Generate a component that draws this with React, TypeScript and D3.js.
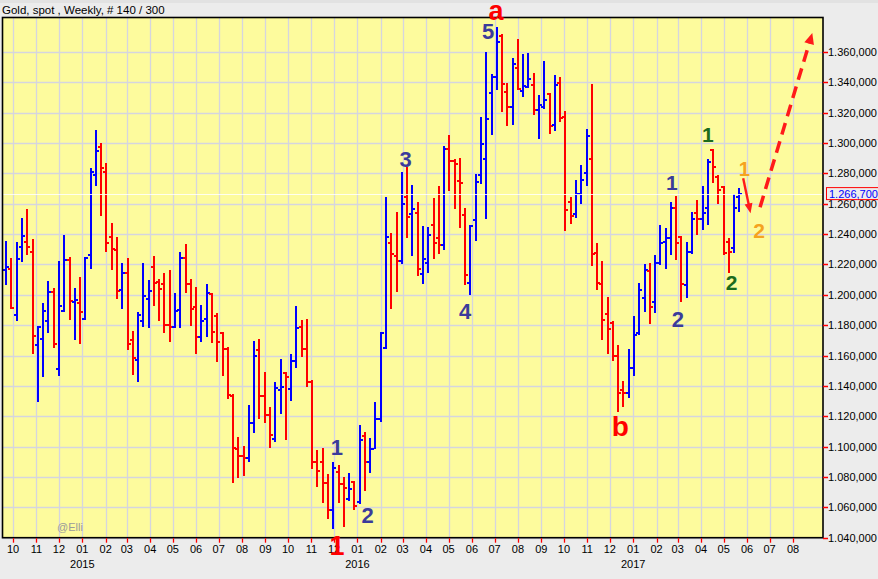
import React from "react";
import * as d3 from "d3";

// Weekly OHLC (price in USD, shown x1000 style "1.266,700")
const opens = [
  1216.4, 1217.3, 1186.8, 1231.8, 1235.1, 1228.3, 1167.0, 1171.2, 1183.0, 1202.1,
  1151.4, 1189.6, 1223.0, 1195.5, 1194.4, 1184.3, 1226.5, 1279.2, 1297.6, 1281.2,
  1238.4, 1229.8, 1203.2, 1214.6, 1170.5, 1157.1, 1183.0, 1197.3, 1218.6, 1208.7,
  1207.2, 1180.2, 1179.1, 1190.0, 1224.5, 1207.0, 1191.8, 1172.0, 1184.3, 1200.6,
  1186.3, 1174.7, 1164.6, 1133.6, 1098.3, 1093.9, 1092.3, 1115.8, 1163.7, 1133.4,
  1121.1, 1104.8, 1137.0, 1148.3, 1137.8, 1156.7, 1178.6, 1164.6, 1142.8, 1090.1,
  1090.1, 1076.3, 1058.3, 1083.5, 1075.2, 1065.5, 1077.0, 1063.8, 1107.1, 1090.1,
  1098.5, 1118.0, 1165.0, 1234.4, 1225.8, 1222.5, 1264.7, 1253.3, 1253.9, 1214.0,
  1221.0, 1245.8, 1237.7, 1233.1, 1295.9, 1288.2, 1275.0, 1252.8, 1208.0, 1249.1,
  1278.8, 1289.7, 1333.0, 1343.5, 1370.5, 1333.9, 1323.5, 1349.7, 1334.3, 1337.0,
  1338.0, 1321.6, 1323.8, 1332.1, 1311.7, 1339.5, 1317.2, 1261.2, 1253.5, 1266.7,
  1280.3, 1289.7, 1227.6, 1207.4, 1187.6, 1181.5, 1159.5, 1137.3, 1135.1, 1151.6,
  1174.7, 1197.7, 1216.0, 1195.3, 1221.2, 1235.0, 1237.3, 1257.0, 1237.9, 1206.5,
  1228.5, 1253.7, 1250.0, 1257.0, 1295.4, 1277.4, 1270.8, 1235.1, 1230.7, 1264.7,
];
const highs = [
  1235.5, 1224.1, 1234.6, 1250.7, 1256.6, 1236.8, 1179.5, 1194.7, 1209.1, 1204.5,
  1222.3, 1239.5, 1224.8, 1204.5, 1211.8, 1224.8, 1283.6, 1308.6, 1300.3, 1286.9,
  1247.4, 1238.1, 1221.0, 1224.3, 1176.2, 1188.5, 1221.0, 1209.8, 1225.6, 1210.2,
  1214.4, 1216.2, 1201.2, 1228.3, 1233.5, 1210.5, 1205.2, 1193.3, 1207.4, 1201.5,
  1188.3, 1175.6, 1165.4, 1134.5, 1106.2, 1100.7, 1127.5, 1169.6, 1170.9, 1149.2,
  1125.9, 1142.6, 1157.8, 1149.2, 1161.0, 1192.7, 1183.5, 1184.1, 1143.9, 1097.8,
  1099.1, 1082.0, 1090.1, 1087.9, 1079.8, 1082.9, 1077.4, 1114.3, 1109.9, 1105.5,
  1129.2, 1175.8, 1264.3, 1240.6, 1254.6, 1281.2, 1284.0, 1272.4, 1261.2, 1245.2,
  1244.7, 1263.8, 1271.7, 1298.3, 1305.3, 1289.3, 1290.2, 1257.2, 1245.8, 1279.8,
  1317.2, 1360.0, 1345.3, 1376.5, 1372.1, 1339.6, 1356.1, 1368.3, 1358.5, 1359.3,
  1346.2, 1331.5, 1354.1, 1333.0, 1344.6, 1343.5, 1321.1, 1264.5, 1275.5, 1285.3,
  1309.1, 1338.7, 1234.2, 1222.1, 1198.6, 1182.8, 1166.8, 1143.3, 1164.6, 1186.1,
  1208.0, 1220.3, 1220.8, 1226.3, 1246.1, 1243.8, 1261.0, 1265.1, 1238.8, 1235.1,
  1254.8, 1262.5, 1271.7, 1289.5, 1295.9, 1279.0, 1271.7, 1237.3, 1266.2, 1270.2,
];
const lows = [
  1206.5, 1190.5, 1183.0, 1221.7, 1226.5, 1161.3, 1129.7, 1146.1, 1175.1, 1165.2,
  1146.8, 1188.5, 1183.7, 1170.5, 1167.9, 1183.2, 1217.3, 1271.7, 1252.2, 1228.3,
  1216.4, 1197.3, 1190.7, 1163.9, 1147.2, 1142.8, 1179.1, 1178.2, 1192.9, 1183.0,
  1175.1, 1169.2, 1178.2, 1178.2, 1201.5, 1179.7, 1161.3, 1169.2, 1172.5, 1168.1,
  1156.0, 1146.8, 1131.2, 1076.3, 1079.4, 1080.9, 1089.7, 1109.2, 1118.2, 1115.8,
  1098.9, 1103.1, 1121.3, 1104.4, 1130.3, 1152.1, 1159.3, 1139.1, 1085.5, 1073.7,
  1063.1, 1052.6, 1046.0, 1062.7, 1047.3, 1064.2, 1058.3, 1062.0, 1071.0, 1082.4,
  1098.5, 1116.5, 1164.1, 1190.9, 1202.1, 1220.3, 1237.3, 1225.8, 1212.2, 1207.4,
  1214.4, 1223.6, 1227.1, 1229.8, 1268.7, 1256.6, 1243.9, 1206.7, 1199.7, 1235.3,
  1272.8, 1250.2, 1305.6, 1335.2, 1320.7, 1311.0, 1312.1, 1335.2, 1330.4, 1336.5,
  1318.3, 1302.9, 1322.7, 1306.2, 1307.7, 1313.7, 1241.9, 1246.5, 1250.9, 1260.1,
  1271.5, 1218.8, 1203.0, 1170.5, 1160.8, 1156.2, 1122.8, 1125.9, 1132.3, 1146.6,
  1173.6, 1188.9, 1180.6, 1188.3, 1219.7, 1216.8, 1226.3, 1223.0, 1195.3, 1197.7,
  1226.7, 1239.4, 1242.7, 1246.1, 1273.9, 1259.9, 1226.3, 1214.2, 1227.4, 1254.8,
];
const closes = [
  1218.6, 1191.4, 1223.6, 1239.0, 1231.8, 1173.1, 1178.6, 1189.6, 1202.1, 1167.6,
  1192.9, 1223.0, 1196.2, 1196.5, 1188.9, 1224.1, 1281.2, 1294.8, 1283.4, 1234.2,
  1230.4, 1202.3, 1214.2, 1167.6, 1158.6, 1186.8, 1199.5, 1202.8, 1208.1, 1204.1,
  1180.0, 1179.1, 1189.2, 1224.5, 1207.0, 1190.9, 1172.5, 1182.6, 1201.0, 1175.8,
  1168.7, 1164.6, 1134.0, 1098.9, 1093.9, 1092.8, 1115.8, 1159.7, 1133.4, 1121.1,
  1107.7, 1138.4, 1139.0, 1146.1, 1156.7, 1178.0, 1164.6, 1142.8, 1090.1, 1084.2,
  1076.3, 1058.3, 1086.2, 1075.2, 1072.6, 1071.9, 1061.2, 1104.4, 1090.1, 1098.5,
  1118.0, 1174.7, 1238.4, 1226.9, 1222.5, 1259.9, 1251.5, 1256.4, 1217.3, 1223.4,
  1239.7, 1234.4, 1232.6, 1295.9, 1288.2, 1286.0, 1273.9, 1213.3, 1245.1, 1274.4,
  1299.6, 1316.1, 1343.5, 1366.6, 1339.2, 1323.5, 1351.9, 1335.8, 1337.4, 1342.4,
  1321.6, 1324.9, 1328.6, 1311.0, 1338.0, 1316.7, 1256.1, 1251.7, 1266.7, 1275.9,
  1304.4, 1226.7, 1207.8, 1183.7, 1177.7, 1159.5, 1135.4, 1135.1, 1151.6, 1173.6,
  1203.2, 1216.4, 1191.8, 1220.8, 1233.9, 1237.3, 1257.0, 1234.4, 1206.9, 1228.5,
  1250.0, 1249.8, 1254.2, 1287.8, 1284.5, 1269.1, 1227.4, 1228.5, 1257.0, 1266.7,
];

const firstWeek = Date.UTC(2014, 8, 22);
const axisStart = Date.UTC(2014, 9, 1);
const axisEnd = Date.UTC(2017, 7, 1);
const yTicks = [1040, 1060, 1080, 1100, 1120, 1140, 1160, 1180, 1200, 1220, 1240, 1260, 1280, 1300, 1320, 1340, 1360];
const yearLabels = ["2015", "2016", "2017"];
const currentPrice = 1266.7;
const title = "Gold, spot , Weekly, # 140 / 300";

// annotations: [text, week index (bar position), price at baseline, color, size]
const waveLabels: [string, number, number, string, number][] = [
  ["a", 92.85, 1381.2, "#ff0000", 27],
  ["5", 91.33, 1368.8, "#3b3b9b", 22],
  ["3", 75.7, 1284.4, "#3b3b9b", 22],
  ["4", 87.0, 1184.3, "#3b3b9b", 22],
  ["1", 62.7, 1094.5, "#3b3b9b", 22],
  ["2", 68.5, 1050.0, "#3b3b9b", 22],
  ["1", 62.7, 1028.7, "#ff0000", 27],
  ["b", 116.4, 1107.0, "#ff0000", 28],
  ["1", 126.2, 1269.1, "#3b3b9b", 21],
  ["2", 127.3, 1179.0, "#3b3b9b", 22],
  ["1", 133.0, 1300.9, "#1c6b1c", 21],
  ["2", 137.5, 1203.2, "#1c6b1c", 21],
  ["1", 139.9, 1278.3, "#f5a31f", 20],
  ["2", 142.7, 1237.3, "#f5a31f", 21],
];
const solidArrow = [[139.7, 1276.8], [141.1, 1253.7]];
const dashedArrow = [[142.9, 1257.7], [152.8, 1372.5]];

const W = 878, H = 579;
const plotL = 2.5, plotR = 823, plotT = 17.5, plotB = 537.7;
const FONT = "'Liberation Sans', Arial, Helvetica, sans-serif";

const locale = d3.formatLocale({ decimal: ",", thousands: ".", grouping: [3], currency: ["", ""] });
const fmt = locale.format(",.3f");

const weekDate = (i: number) => new Date(firstWeek + i * 7 * 864e5);

function arrowHead(x1: number, y1: number, x2: number, y2: number, len: number, half: number) {
  const a = Math.atan2(y2 - y1, x2 - x1);
  const bx = x2 - len * Math.cos(a), by = y2 - len * Math.sin(a);
  const px = -Math.sin(a) * half, py = Math.cos(a) * half;
  return `M${x2},${y2}L${bx + px},${by + py}L${bx - px},${by - py}Z`;
}

export default function App() {
  const x = d3.scaleUtc().domain([new Date(axisStart), new Date(axisEnd)]).range([13, 793]);
  const y = d3.scaleLinear().domain([1040, 1360]).range([537.7, 52]);
  const months = d3.utcMonth.range(new Date(axisStart), new Date(Date.UTC(2017, 8, 1)));
  const mfmt = d3.utcFormat("%m");
  const jans = months.filter((m) => m.getUTCMonth() === 0);

  const sa = solidArrow.map(([w, p]) => [x(weekDate(w)), y(p)]);
  const da = dashedArrow.map(([w, p]) => [x(weekDate(w)), y(p)]);
  const dAng = Math.atan2(da[1][1] - da[0][1], da[1][0] - da[0][0]);
  const dEnd = [da[1][0] - 9 * Math.cos(dAng), da[1][1] - 9 * Math.sin(dAng)];
  const sAng = Math.atan2(sa[1][1] - sa[0][1], sa[1][0] - sa[0][0]);
  const sEnd = [sa[1][0] - 8 * Math.cos(sAng), sa[1][1] - 8 * Math.sin(sAng)];

  const cpY = y(currentPrice);

  return (
    <svg width={W} height={H} style={{ position: "absolute", left: 0, top: 0, display: "block" }} fontFamily={FONT}>
      <rect x={0} y={0} width={W} height={H} fill="#ececec" />
      <rect x={0} y={0} width={W} height={3} fill="#e2e2e2" />
      <text x={2} y={14} fontSize={11.5} fill="#000">{title}</text>

      <rect x={plotL} y={plotT} width={plotR - plotL} height={plotB - plotT} fill="#fdfb9d" />

      {/* grid */}
      {yTicks.map((t) => (
        <line key={"gy" + t} x1={plotL} x2={plotR} y1={Math.round(y(t)) + 0.5} y2={Math.round(y(t)) + 0.5} stroke="#d5d5df" strokeWidth={1.3} />
      ))}
      {months.map((m, i) => (
        <line key={"gx" + i} x1={Math.round(x(m)) + 0.5} x2={Math.round(x(m)) + 0.5} y1={plotT} y2={plotB} stroke="#d5d5df" strokeWidth={1.3} />
      ))}

      <text x={57} y={531} fontSize={11} fill="#9a9a9a">@Elli</text>

      {/* bars */}
      <g shapeRendering="crispEdges">
        {closes.map((c, i) => {
          const o = opens[i], h = highs[i], l = lows[i];
          const cx = Math.round(x(weekDate(i)));
          const col = c >= o ? "#0000ff" : "#ff0000";
          const yh = Math.round(y(h)), yl = Math.round(y(l));
          const yo = Math.round(y(o)), yc = Math.round(y(c));
          return (
            <g key={i} fill={col}>
              <rect x={cx - 1} y={yh} width={2} height={Math.max(2, yl - yh)} />
              <rect x={cx - 3} y={yo - 1} width={2} height={2} />
              <rect x={cx + 1} y={yc - 1} width={2} height={2} />
            </g>
          );
        })}
      </g>

      {/* current price line */}
      <line x1={plotL} x2={plotR} y1={Math.round(cpY) + 0.5} y2={Math.round(cpY) + 0.5} stroke="#ffffff" strokeOpacity={0.85} strokeWidth={1} />

      {/* plot border */}
      <rect x={plotL} y={plotT} width={plotR - plotL} height={plotB - plotT} fill="none" stroke="#000" strokeWidth={1.6} />

      {/* y axis */}
      {yTicks.map((t) => (
        <g key={"yt" + t}>
          <line x1={plotR} x2={plotR + 5} y1={Math.round(y(t)) + 0.5} y2={Math.round(y(t)) + 0.5} stroke="#ff0000" strokeWidth={1.5} />
          <text x={828} y={y(t) + 4} fontSize={11} fill="#000">{fmt(t)}</text>
        </g>
      ))}
      <rect x={826.5} y={cpY - 6} width={52} height={12} fill="#ececec" stroke="#ff0000" strokeWidth={1} />
      <text x={829} y={cpY + 4} fontSize={11} fill="#0000ff">{fmt(currentPrice)}</text>

      {/* x axis */}
      {months.map((m, i) => (
        <g key={"xt" + i}>
          <line x1={Math.round(x(m)) + 0.5} x2={Math.round(x(m)) + 0.5} y1={plotB + 0.5} y2={plotB + 5} stroke="#ff0000" strokeWidth={1.3} />
          <text x={x(m)} y={553} fontSize={11} textAnchor="middle" fill="#000">{mfmt(m)}</text>
        </g>
      ))}
      {jans.map((m, i) => (
        <text key={"yr" + i} x={x(m)} y={567.5} fontSize={11} textAnchor="middle" fill="#000">{yearLabels[i]}</text>
      ))}

      {/* annotations */}
      {waveLabels.map(([t, w, p, col, fs], i) => (
        <text key={"wl" + i} x={x(weekDate(w))} y={y(p)} fontSize={fs} fontWeight="bold" textAnchor="middle" fill={col}>{t}</text>
      ))}
      <line x1={sa[0][0]} y1={sa[0][1]} x2={sEnd[0]} y2={sEnd[1]} stroke="#ff1a1a" strokeWidth={2.4} />
      <path d={arrowHead(sa[0][0], sa[0][1], sa[1][0], sa[1][1], 10, 4)} fill="#ff1a1a" />
      <line x1={da[0][0]} y1={da[0][1]} x2={dEnd[0]} y2={dEnd[1]} stroke="#ff1a1a" strokeWidth={3.5} strokeDasharray="12 7" />
      <path d={arrowHead(da[0][0], da[0][1], da[1][0], da[1][1], 11, 5)} fill="#ff1a1a" />
    </svg>
  );
}
